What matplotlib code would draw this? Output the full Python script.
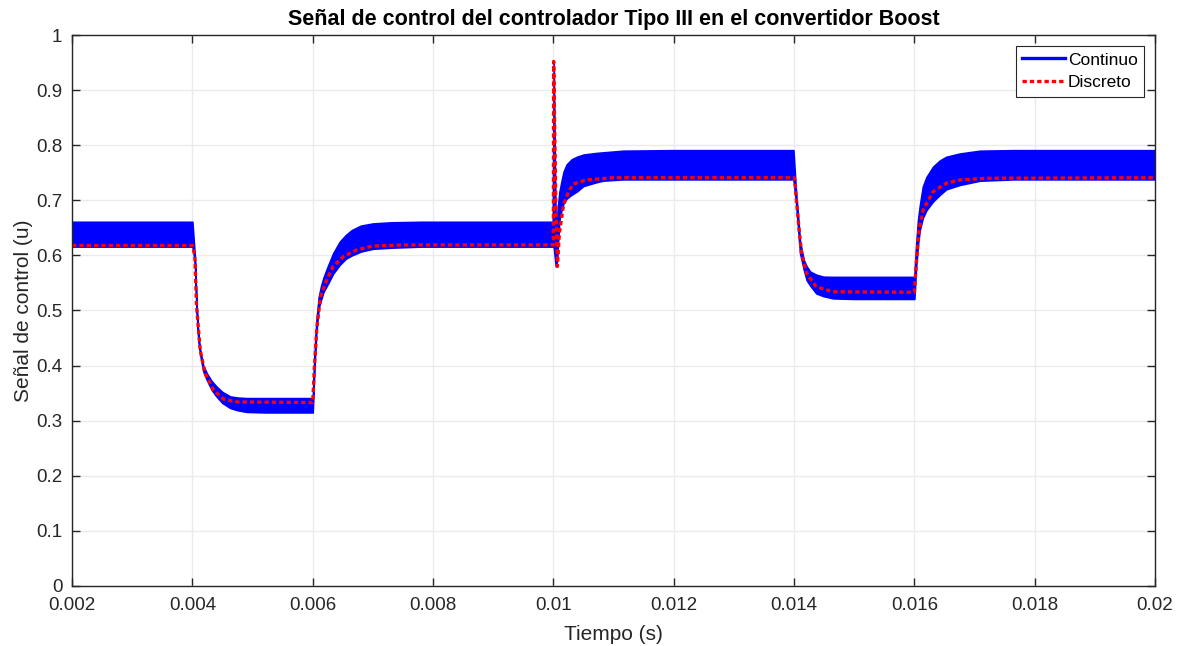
import matplotlib.pyplot as plt
import numpy as np
from matplotlib.lines import Line2D

plt.rcParams['font.family'] = ['Liberation Sans', 'DejaVu Sans']

# Continuo: envolvente superior e inferior del rizado
t_band = [0.0020, 0.00400, 0.00404, 0.00407, 0.00410, 0.00413, 0.00418, 0.00424,
          0.00432, 0.00440, 0.00450, 0.00463, 0.00475, 0.00490, 0.00520, 0.00600,
          0.00603, 0.00606, 0.00610, 0.00614, 0.00618, 0.00625, 0.00634, 0.00645,
          0.00655, 0.00665, 0.00680, 0.00700, 0.00730, 0.00780, 0.00999, 0.010005,
          0.01004, 0.01006, 0.01010, 0.01014, 0.01017, 0.01022, 0.01030, 0.01039,
          0.01050, 0.01072, 0.01083, 0.01116, 0.01200, 0.01399, 0.01403, 0.01406,
          0.01410, 0.01416, 0.01421, 0.01427, 0.01437, 0.01449, 0.01465, 0.01500,
          0.01600, 0.01603, 0.01606, 0.01609, 0.01614, 0.01620, 0.01631, 0.01642,
          0.01653, 0.01676, 0.01709, 0.01765, 0.0200]
cont_upper = [0.661, 0.661, 0.600, 0.510, 0.455, 0.428, 0.400, 0.386,
              0.372, 0.362, 0.352, 0.344, 0.342, 0.341, 0.341, 0.341,
              0.420, 0.480, 0.525, 0.545, 0.560, 0.580, 0.604, 0.625,
              0.637, 0.646, 0.654, 0.658, 0.660, 0.661, 0.661, 0.950,
              0.640, 0.670, 0.715, 0.737, 0.752, 0.765, 0.774, 0.779,
              0.783, 0.786, 0.787, 0.790, 0.791, 0.791, 0.720, 0.680,
              0.625, 0.592, 0.580, 0.5705, 0.565, 0.5613, 0.561, 0.561,
              0.561, 0.620, 0.664, 0.690, 0.7247, 0.742, 0.761, 0.772,
              0.779, 0.785, 0.790, 0.791, 0.791]
cont_lower = [0.616, 0.616, 0.590, 0.500, 0.445, 0.420, 0.390, 0.374,
              0.356, 0.344, 0.332, 0.323, 0.319, 0.316, 0.315, 0.315,
              0.400, 0.460, 0.505, 0.520, 0.534, 0.548, 0.567, 0.583,
              0.594, 0.600, 0.607, 0.612, 0.614, 0.616, 0.616, 0.616,
              0.580, 0.590, 0.664, 0.685, 0.695, 0.703, 0.710, 0.716,
              0.726, 0.733, 0.7357, 0.738, 0.738, 0.738, 0.700, 0.660,
              0.604, 0.575, 0.555, 0.545, 0.531, 0.526, 0.522, 0.521,
              0.521, 0.580, 0.620, 0.646, 0.668, 0.682, 0.698, 0.7096,
              0.720, 0.728, 0.7356, 0.738, 0.738]

# Discreto
t_disc = [0.0020, 0.00400, 0.00404, 0.00407, 0.00413, 0.00421, 0.00435, 0.00452,
          0.00474, 0.0060, 0.00603, 0.00607, 0.00613, 0.00623, 0.00634, 0.00651,
          0.00673, 0.0070, 0.0075, 0.0100, 0.010005, 0.01004, 0.010067, 0.01010,
          0.010167, 0.01025, 0.01033, 0.01055, 0.0110, 0.0140, 0.014012, 0.01404,
          0.014085, 0.014125, 0.01421, 0.01437, 0.01465, 0.0160, 0.016033, 0.016078,
          0.016144, 0.01631, 0.01653, 0.01676, 0.0172, 0.0200]
disc = [0.618, 0.618, 0.600, 0.507, 0.428, 0.386, 0.356, 0.339,
        0.334, 0.333, 0.400, 0.470, 0.525, 0.555, 0.580, 0.598,
        0.610, 0.617, 0.619, 0.619, 0.952, 0.700, 0.580, 0.640,
        0.691, 0.715, 0.7296, 0.737, 0.741, 0.741, 0.737, 0.700,
        0.646, 0.604, 0.5675, 0.543, 0.534, 0.533, 0.5857, 0.646,
        0.682, 0.7157, 0.731, 0.737, 0.740, 0.741]

xticks = [0.002, 0.004, 0.006, 0.008, 0.01, 0.012, 0.014, 0.016, 0.018, 0.02]
xticklabels = ['0.002', '0.004', '0.006', '0.008', '0.01', '0.012', '0.014', '0.016', '0.018', '0.02']
yticks = [0, 0.1, 0.2, 0.3, 0.4, 0.5, 0.6, 0.7, 0.8, 0.9, 1]
yticklabels = ['0', '0.1', '0.2', '0.3', '0.4', '0.5', '0.6', '0.7', '0.8', '0.9', '1']

axcol = '#262626'
dots = (0, (1.3, 0.9))
fig = plt.figure(figsize=(11.85, 6.46), dpi=100)
ax = fig.add_axes([0.0608, 0.0929, 0.9139, 0.8529])

ax.fill_between(t_band, cont_lower, cont_upper, color='blue', lw=1.2, edgecolor='blue')
ax.plot(t_disc, disc, color='red', lw=2.4, linestyle=dots)

ax.set_xlim(0.002, 0.02)
ax.set_ylim(0, 1)
ax.set_xticks(xticks)
ax.set_xticklabels(xticklabels)
ax.set_yticks(yticks)
ax.set_yticklabels(yticklabels)
ax.grid(True, color='#ebebeb', lw=1)
ax.set_axisbelow(True)
ax.tick_params(direction='in', length=6, width=1, colors=axcol, labelsize=13.5,
               top=True, right=True, labelcolor=axcol)
ax.tick_params(axis='x', pad=8)
ax.tick_params(axis='y', pad=7)
for s in ax.spines.values():
    s.set_color(axcol)
    s.set_linewidth(1)

ax.set_xlabel('Tiempo (s)', fontsize=15, color=axcol, labelpad=8)
ax.set_ylabel('Señal de control (u)', fontsize=15, color=axcol, labelpad=2)
ax.set_title('Señal de control del controlador Tipo III en el convertidor Boost',
             fontsize=15.5, fontweight='bold', color='black', pad=7)

handles = [Line2D([], [], color='blue', lw=2.4),
           Line2D([], [], color='red', lw=2.4, linestyle=dots)]
leg = ax.legend(handles, ['Continuo', 'Discreto'], loc='upper right', fontsize=12.5,
                frameon=True, fancybox=False, edgecolor=axcol, framealpha=1,
                borderpad=0.35, handlelength=2.5, handletextpad=0.15, labelspacing=0.45,
                borderaxespad=0.65)
leg.get_frame().set_linewidth(0.8)

plt.savefig('out.png', dpi=100)
